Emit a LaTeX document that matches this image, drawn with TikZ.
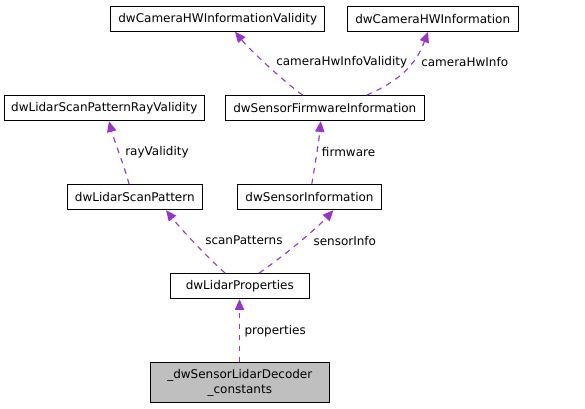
\documentclass[tikz,border=0pt]{standalone}
\usepackage{fontspec}
\setmainfont{DejaVu Sans}
\usetikzlibrary{arrows.meta}
\definecolor{usecol}{RGB}{154,50,205}
\definecolor{boxgray}{RGB}{191,191,191}
\tikzset{
  classbox/.style={draw=black, line width=0.8pt, inner sep=0pt, minimum height=18.75pt, font=\fontsize{9}{11.5}\selectfont, align=center},
  relation/.style={draw=usecol, line width=0.85pt, dash pattern=on 4.2pt off 4pt, -{Triangle[length=8pt,width=7pt]}},
  rolelabel/.style={anchor=west, inner sep=0pt, font=\fontsize{9}{11.5}\selectfont},
}
\begin{document}
\begin{tikzpicture}[x=0.75pt,y=0.75pt,yscale=-1,xscale=1]
\useasboundingbox (0,0) rectangle (585,409);

%Shape: Rectangle [camval]
\node [classbox, minimum width=160.7pt] (camval) at (217.8,18.7) {dwCameraHWInformationValidity};
%Shape: Rectangle [camhw]
\node [classbox, minimum width=128.5pt] (camhw) at (432.7,18.7) {dwCameraHWInformation};
%Shape: Rectangle [rayval]
\node [classbox, minimum width=150pt] (rayval) at (104.3,108.2) {dwLidarScanPatternRayValidity};
%Shape: Rectangle [firmware]
\node [classbox, minimum width=149.25pt] (firmware) at (324.8,108.2) {dwSensorFirmwareInformation};
%Shape: Rectangle [scanpat]
\node [classbox, minimum width=101.25pt] (scanpat) at (134.8,197.2) {dwLidarScanPattern};
%Shape: Rectangle [sensorinfo]
\node [classbox, minimum width=108.3pt] (sensorinfo) at (309.5,197.2) {dwSensorInformation};
%Shape: Rectangle [props]
\node [classbox, minimum width=104.25pt] (props) at (239.8,286.2) {dwLidarProperties};
%Shape: Rectangle [decoder]
\node [classbox, fill=boxgray, minimum width=134.25pt, minimum height=30pt] (decoder) at (239.8,382.7) {\_dwSensorLidarDecoder\\\_constants};

%Curve Lines [properties]
\draw [relation] ([xshift=-0.2pt]decoder.north) -- ([xshift=-0.2pt]props.south);
%Curve Lines [scanPatterns]
\draw [relation] ([xshift=-11pt]props.north) .. controls (205,255) and (180,228) .. ([xshift=23.4pt]scanpat.south);
%Curve Lines [sensorInfo]
\draw [relation] ([xshift=14.4pt]props.north) .. controls (285,255) and (315,230) .. ([xshift=17.9pt]sensorinfo.south);
%Curve Lines [rayValidity]
\draw [relation] ([xshift=-4.3pt]scanpat.north) .. controls (124,165) and (114,140) .. ([xshift=3.5pt]rayval.south);
%Curve Lines [firmware]
\draw [relation] ([xshift=1.7pt]sensorinfo.north) .. controls (315,165) and (319,140) .. ([xshift=-3pt]firmware.south);
%Curve Lines [cameraHwInfoValidity]
\draw [relation] ([xshift=-16.6pt]firmware.north) .. controls (282,80) and (250,50) .. ([xshift=12.9pt]camval.south);
%Curve Lines [cameraHwInfo]
\draw [relation] ([xshift=31.4pt]firmware.north) .. controls (392,84) and (414,70) .. ([xshift=-3.5pt]camhw.south);

% Text Node
\node [rolelabel] (lblprops) at (244.3,330.7) {properties};
% Text Node
\node [rolelabel] (lblscan) at (205,240.7) {scanPatterns};
% Text Node
\node [rolelabel] (lblsensor) at (313.3,240.7) {sensorInfo};
% Text Node
\node [rolelabel] (lblray) at (125,152) {rayValidity};
% Text Node
\node [rolelabel] (lblfirm) at (321.7,152) {firmware};
% Text Node
\node [rolelabel] (lblcamval) at (276,62) {cameraHwInfoValidity};
% Text Node
\node [rolelabel] (lblcamhw) at (421,62) {cameraHwInfo};

\end{tikzpicture}
\end{document}
